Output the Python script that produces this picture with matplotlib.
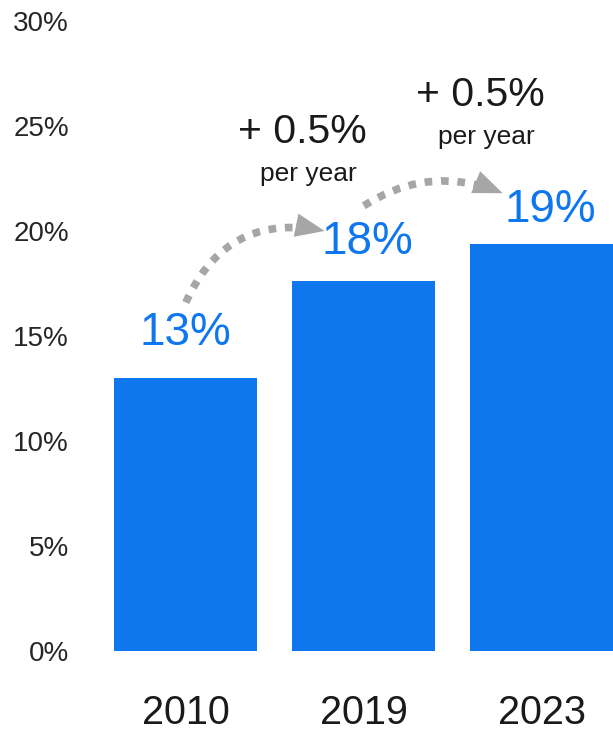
import numpy as np
import matplotlib
matplotlib.use("Agg")
import matplotlib.pyplot as plt
from matplotlib.patches import FancyArrowPatch

plt.rcParams['font.family'] = ['Liberation Sans', 'DejaVu Sans']

years = ["2010", "2019", "2023"]
shares = [13.0, 17.6, 19.4]
value_labels = ["13%", "18%", "19%"]
growth_label = "+ 0.5%"
growth_sub = "per year"
yticks = [0, 5, 10, 15, 20, 25, 30]
ytick_labels = ["0%", "5%", "10%", "15%", "20%", "25%", "30%"]

BLUE = "#0E77EE"
GRAY = "#A6A6A6"
DARK = "#1a1a1a"

fig = plt.figure(figsize=(6.13, 7.37), dpi=100)
ax = fig.add_axes([0.158, 0.1167, 0.842, 0.8548])

x = list(range(len(years)))
ax.bar(x, shares, width=0.805, color=BLUE)

ax.set_xlim(-0.5, 2.40)
ax.set_ylim(0, 30)
ax.set_yticks(yticks)
ax.set_yticklabels(ytick_labels, fontsize=20, color="#262626")
ax.set_xticks(x)
ax.set_xticklabels(years, fontsize=28.5, color=DARK)
ax.tick_params(axis='y', length=0, pad=20)
ax.tick_params(axis='x', length=0, pad=31)
for s in ax.spines.values():
    s.set_visible(False)

# value labels
label_dx = [0.0, 0.02, 0.045]
label_dy = [1.1, 0.85, 0.55]
for i, (v, t) in enumerate(zip(shares, value_labels)):
    ax.text(i + label_dx[i], v + label_dy[i], t, ha='center', va='bottom',
            fontsize=33, color=BLUE)

# growth arrows and labels
rads = [-0.4, -0.26]
head_len_pt = 21
for i in range(len(shares) - 1):
    start = (i + 0.0, shares[i] + 3.6)
    end = (i + 0.78, shares[i + 1] + 2.4)
    # dotted curved body (stops at the head's base)
    body = FancyArrowPatch(start, end,
                           connectionstyle=f"arc3,rad={rads[i]}",
                           arrowstyle="-", mutation_scale=1,
                           shrinkA=0, shrinkB=head_len_pt * 0.85,
                           color=GRAY, linewidth=5.5,
                           linestyle=(0, (1.0, 1.15)), capstyle='butt')
    ax.add_patch(body)
    # solid arrow head along the tangent at the end of the arc
    p1 = ax.transData.transform(start)
    p2 = ax.transData.transform(end)
    d = p2 - p1
    c = (p1 + p2) / 2 + rads[i] * np.array([d[1], -d[0]])
    tangent = (p2 - c) / np.linalg.norm(p2 - c)
    back = ax.transData.inverted().transform(p2 - tangent * 32)
    head = FancyArrowPatch(tuple(back), end,
                           arrowstyle=f"-|>,head_length={head_len_pt},head_width=8.5",
                           mutation_scale=1, shrinkA=0, shrinkB=0,
                           color=GRAY, linewidth=0)
    ax.add_patch(head)
    ax.text(i + 0.653, shares[i + 1] + 7.1, growth_label, ha='center', va='center',
            fontsize=29.5, color=DARK)
    ax.text(i + 0.687, shares[i + 1] + 5.1, growth_sub, ha='center', va='center',
            fontsize=19, color=DARK)

fig.savefig("out.png", dpi=100)
